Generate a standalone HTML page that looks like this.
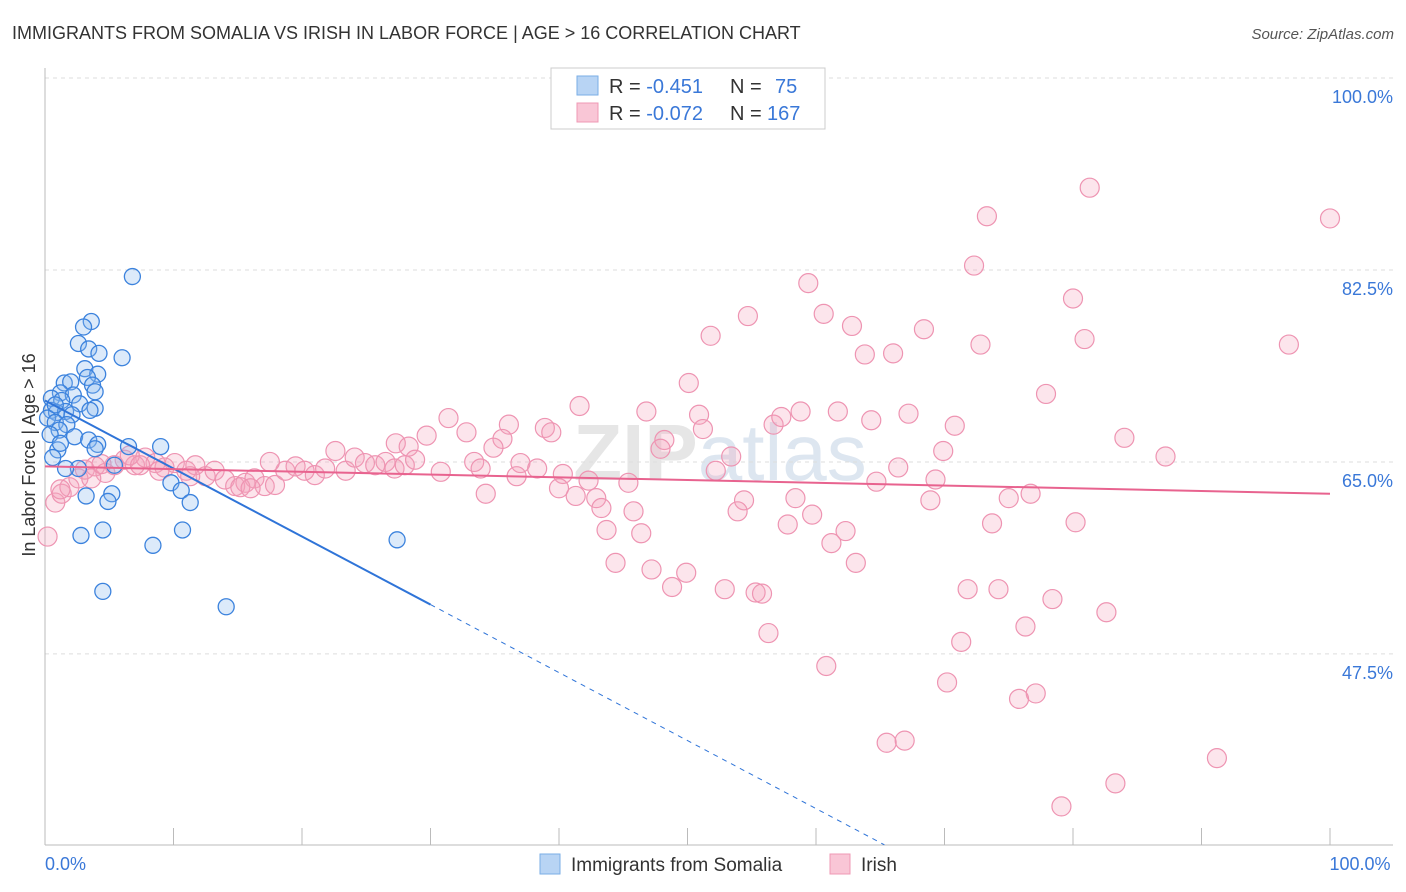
<!DOCTYPE html>
<html><head><meta charset="utf-8"><style>
body{margin:0;background:#fff;font-family:"Liberation Sans",sans-serif;}
svg{display:block}
</style></head><body>
<svg id="chart" width="1406" height="892" viewBox="0 0 1406 892">
<text x="12" y="39" font-size="18" fill="#333">IMMIGRANTS FROM SOMALIA VS IRISH IN LABOR FORCE | AGE &gt; 16 CORRELATION CHART</text>
<text x="1394" y="39" font-size="15" fill="#555" font-style="italic" text-anchor="end">Source: ZipAtlas.com</text>
<text x="720" y="480" font-size="80" fill="#e6e6e6" text-anchor="middle" font-weight="bold">ZIP<tspan font-weight="normal" fill="#dde6f0">atlas</tspan></text>
<g id="grid"></g><g id="axes"></g><g id="pts"></g><g id="trend"></g>
<text x="35" y="455" font-size="18" fill="#333" text-anchor="middle" transform="rotate(-90 35 455)">In Labor Force | Age &gt; 16</text>
<g>
<rect x="551" y="68" width="274" height="61" fill="#fff" stroke="#ccc"/>
<rect x="577" y="76" width="21" height="19" fill="#b8d4f4" stroke="#7aaee6"/>
<rect x="577" y="103" width="21" height="19" fill="#f9c6d6" stroke="#ef98b4"/>
<text x="609" y="93" font-size="20" fill="#333">R = <tspan fill="#3a78d8">-0.451</tspan><tspan x="730">N = </tspan><tspan x="775" fill="#3a78d8">75</tspan></text>
<text x="609" y="120" font-size="20" fill="#333">R = <tspan fill="#3a78d8">-0.072</tspan><tspan x="730">N = </tspan><tspan x="767" fill="#3a78d8">167</tspan></text>
</g>
<g>
<rect x="540" y="854" width="20" height="20" fill="#b8d4f4" stroke="#7aaee6"/>
<text x="571" y="871" font-size="19" fill="#333">Immigrants from Somalia</text>
<rect x="830" y="854" width="20" height="20" fill="#f9c6d6" stroke="#ef98b4"/>
<text x="861" y="871" font-size="19" fill="#333">Irish</text>
</g>
</svg>
<script>
const yTicks=[100,82.5,65,47.5];
const yTickLabels=["100.0%","82.5%","65.0%","47.5%"];
const xEndLabels=["0.0%","100.0%"];
const blueX=[6.8,3.6,3.0,2.6,3.4,4.2,6.0,3.1,4.1,3.3,1.5,2.0,3.7,3.9,1.2,2.2,0.5,1.3,2.7,3.9,3.5,0.5,0.9,1.6,2.1,0.2,0.8,1.7,1.1,0.4,2.3,3.4,4.1,6.5,9.0,1.0,3.9,0.6,2.6,5.4,9.8,10.6,3.2,5.2,4.9,11.3,4.5,2.8,10.7,8.4,27.4,4.5,14.1,0.8,1.2,1.6];
const blueY=[81.9,77.8,77.3,75.8,75.3,74.9,74.5,73.5,73.0,72.7,72.2,72.3,72.0,71.4,71.3,71.1,70.8,70.6,70.3,69.9,69.7,69.7,69.5,69.6,69.3,69.0,68.6,68.4,67.9,67.5,67.3,67.0,66.6,66.4,66.4,66.1,66.2,65.4,64.4,64.7,63.1,62.4,61.9,62.1,61.4,61.3,58.8,58.3,58.8,57.4,57.9,53.2,51.8,70.2,66.7,64.4];
const pinkX=[81.3,100,73.3,72.3,59.4,80.0,54.7,60.6,62.8,68.4,51.8,72.8,80.9,96.8,63.8,66.0,50.1,77.9,41.6,46.8,50.9,58.8,61.7,67.2,64.3,31.4,36.1,38.9,51.2,56.7,57.3,70.8,32.8,29.7,35.6,39.4,48.2,27.3,28.3,34.9,84.0,47.9,69.9,87.2,53.4,33.4,37.0,38.3,33.9,30.8,52.2,66.4,36.7,40.3,42.3,45.4,64.7,69.3,40.0,34.3,41.3,42.9,54.4,58.4,68.9,75.0,76.7,43.3,45.8,53.9,59.7,57.8,73.7,80.2,43.7,46.4,62.3,61.2,44.4,47.2,49.9,63.1,48.8,52.9,55.3,55.8,71.8,74.2,78.4,82.6,76.3,56.3,71.3,60.8,70.2,77.1,75.8,65.5,66.9,91.2,83.3,79.1,
0.2,0.8,1.3,1.9,2.6,3.1,3.9,4.7,5.4,6.2,7.0,7.8,8.6,9.3,10.1,11.0,11.7,12.5,13.2,14.0,14.8,15.6,16.3,17.1,17.9,18.7,19.5,20.2,21.0,21.8,22.6,23.4,24.1,24.9,25.7,26.5,27.2,28.0,28.8,6.6,8.9,11.3,15.2,3.6,16.0,17.5,4.4,7.4,1.2];
const pinkY=[90.0,87.2,87.4,82.9,81.3,79.9,78.3,78.5,77.4,77.1,76.5,75.7,76.2,75.7,74.8,74.9,72.2,71.2,70.1,69.6,69.3,69.6,69.6,69.4,68.8,69.0,68.4,68.1,68.0,68.4,69.1,68.3,67.7,67.4,67.1,67.7,67.0,66.7,66.4,66.3,67.2,66.2,66.0,65.5,65.5,65.0,64.9,64.4,64.4,64.1,64.2,64.5,63.7,63.9,63.3,63.1,63.2,63.4,62.6,62.1,61.9,61.7,61.5,61.7,61.5,61.7,62.1,60.8,60.5,60.5,60.2,59.3,59.4,59.5,58.8,58.5,58.7,57.6,55.8,55.2,54.9,55.8,53.6,53.4,53.1,53.0,53.4,53.4,52.5,51.3,50.0,49.4,48.6,46.4,44.9,43.9,43.4,39.4,39.6,38.0,35.7,33.6,
58.2,61.3,62.1,62.7,63.5,64.3,64.6,64.0,64.7,65.2,64.7,65.4,64.9,64.5,64.9,64.2,64.7,63.7,64.2,63.4,62.8,63.1,63.5,62.8,62.9,64.2,64.6,64.2,63.8,64.4,66.0,64.2,65.4,64.9,64.7,65.0,64.4,64.7,65.2,65.6,64.2,63.7,62.7,63.5,62.6,65.0,64.8,64.7,62.5];
const blueTrend=[70.6,-0.62]; // intercept, slope
const pinkTrend=[64.6,-0.025];
const NS="http://www.w3.org/2000/svg";
const X0=45,X1=1330,Y100=78,PXPER=10.97;
const sx=v=>X0+(X1-X0)*v/100;
const sy=v=>Y100+(100-v)*PXPER;
function mk(tag,attrs,parent){const e=document.createElementNS(NS,tag);for(const k in attrs)e.setAttribute(k,attrs[k]);parent.appendChild(e);return e;}
const grid=document.getElementById('grid'),axes=document.getElementById('axes');
yTicks.forEach((t,i)=>{
 const l=mk('line',{x1:45,x2:1393,y1:sy(t),y2:sy(t),stroke:'#ddd','stroke-dasharray':'4,4'},grid);
 
 
 const tx=mk('text',{x:1393,y:sy(t)+25,'font-size':18,fill:'#3a78d8','text-anchor':'end'},axes);
 tx.textContent=yTickLabels[i];
 
 
});
const ax=mk('line',{x1:45,x2:45,y1:68,y2:845,stroke:'#bbb'},axes);


const bx=mk('line',{x1:45,x2:1393,y1:845,y2:845,stroke:'#bbb'},axes);


for(let i=0;i<=10;i++){const t=mk('line',{x1:sx(i*10),x2:sx(i*10),y1:828,y2:845,stroke:'#bbb'},axes);
 
 }
[[0,'start',xEndLabels[0]],[100,'middle',xEndLabels[1]]].forEach(([v,a,s])=>{
 const t=mk('text',{x:v===0?45:1360,y:870,'font-size':18,fill:'#3a78d8','text-anchor':a},axes);t.textContent=s;
 
 });
const pts=document.getElementById('pts');
pinkX.forEach((x,i)=>{const c=mk('circle',{cx:sx(x),cy:sy(pinkY[i]),r:9.5,fill:'rgba(244,160,188,0.28)',stroke:'#ee94b2','stroke-width':1.2},pts);
 
 });
blueX.forEach((x,i)=>{const c=mk('circle',{cx:sx(x),cy:sy(blueY[i]),r:8,fill:'rgba(140,185,240,0.3)',stroke:'#3b82dd','stroke-width':1.3},pts);
 
 });
const tr=document.getElementById('trend');
const bf=x=>blueTrend[0]+blueTrend[1]*x, pf=x=>pinkTrend[0]+pinkTrend[1]*x;
const b1=mk('line',{x1:sx(0),y1:sy(bf(0)),x2:sx(30),y2:sy(bf(30)),stroke:'#2f74d8','stroke-width':2},tr);


const xe=(30.1-blueTrend[0])/blueTrend[1];
const b2=mk('line',{x1:sx(30),y1:sy(bf(30)),x2:sx(xe),y2:sy(bf(xe)),stroke:'#2f74d8','stroke-width':1,'stroke-dasharray':'5,5'},tr);


const p1=mk('line',{x1:sx(0),y1:sy(pf(0)),x2:sx(100),y2:sy(pf(100)),stroke:'#e8638f','stroke-width':2},tr);


</script>
</body></html>
